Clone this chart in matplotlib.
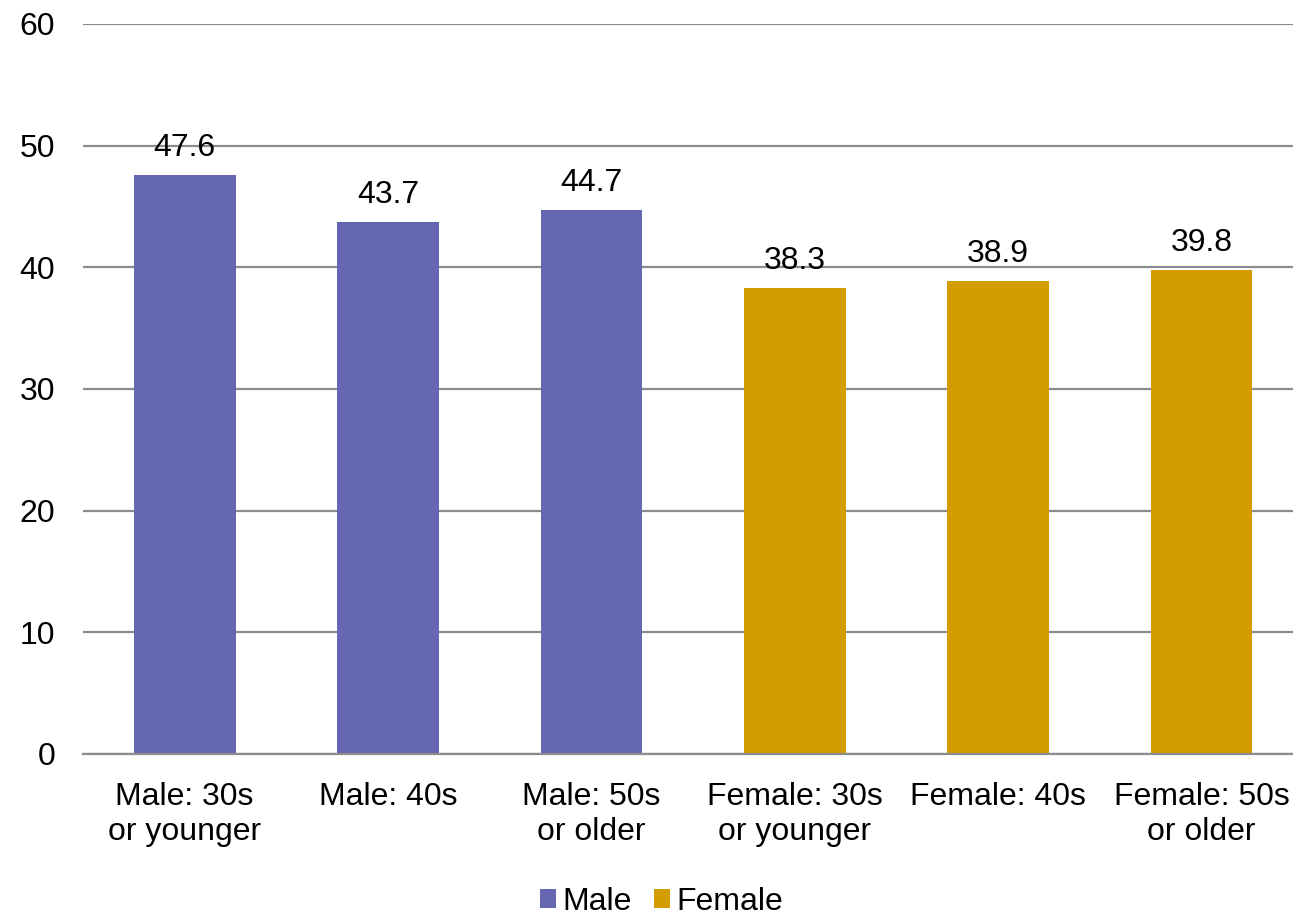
import matplotlib
matplotlib.use("Agg")
import matplotlib.pyplot as plt
from matplotlib.patches import Patch

plt.rcParams['font.family'] = ['Liberation Sans', 'DejaVu Sans']

categories = ["Male: 30s\nor younger", "Male: 40s", "Male: 50s\nor older",
              "Female: 30s\nor younger", "Female: 40s", "Female: 50s\nor older"]
values = [47.6, 43.7, 44.7, 38.3, 38.9, 39.8]
groups = ["Male", "Male", "Male", "Female", "Female", "Female"]
group_colors = {"Male": "#6567B2", "Female": "#D39C00"}
yticks = [0, 10, 20, 30, 40, 50, 60]

FS = 23

fig = plt.figure(figsize=(12.93, 9.16), dpi=100)
# plot area runs slightly past the right edge of the canvas
ax = fig.add_axes([0.0642, 0.1769, 0.9436, 0.7969])

x = range(len(categories))
colors = [group_colors[g] for g in groups]
bars = ax.bar(x, values, width=0.50, color=colors, zorder=3)

for rect, v in zip(bars, values):
    ax.annotate(f"{v:.1f}", (rect.get_x() + rect.get_width() / 2, v),
                xytext=(0, 8.5), textcoords="offset points",
                ha="center", va="bottom", fontsize=FS, color="black", zorder=4)

ax.set_xlim(-0.5, len(categories) - 0.5)
ax.set_ylim(0, 60)
ax.set_yticks(yticks)
ax.set_xticks(list(x))
ax.set_xticklabels(categories, fontsize=FS, linespacing=1.22)
ax.tick_params(axis='y', length=0, pad=20, labelsize=FS)
ax.tick_params(axis='x', length=0, pad=20.5)

ax.grid(axis='y', color='#8C8C8C', linewidth=1.6, zorder=0)
for s in ['top', 'right', 'left']:
    ax.spines[s].set_visible(False)
ax.spines['bottom'].set_color('#8C8C8C')
ax.spines['bottom'].set_linewidth(1.6)
ax.spines['bottom'].set_zorder(5)

handles = [Patch(facecolor=group_colors[g], label=g) for g in ["Male", "Female"]]
fig.legend(handles=handles, loc='center', bbox_to_anchor=(0.5116, 0.0155),
           ncol=2, frameon=False, fontsize=FS, handlelength=0.5,
           handleheight=0.5, handletextpad=0.2, columnspacing=0.7,
           borderpad=0.1)

fig.savefig("out.png", dpi=100)
